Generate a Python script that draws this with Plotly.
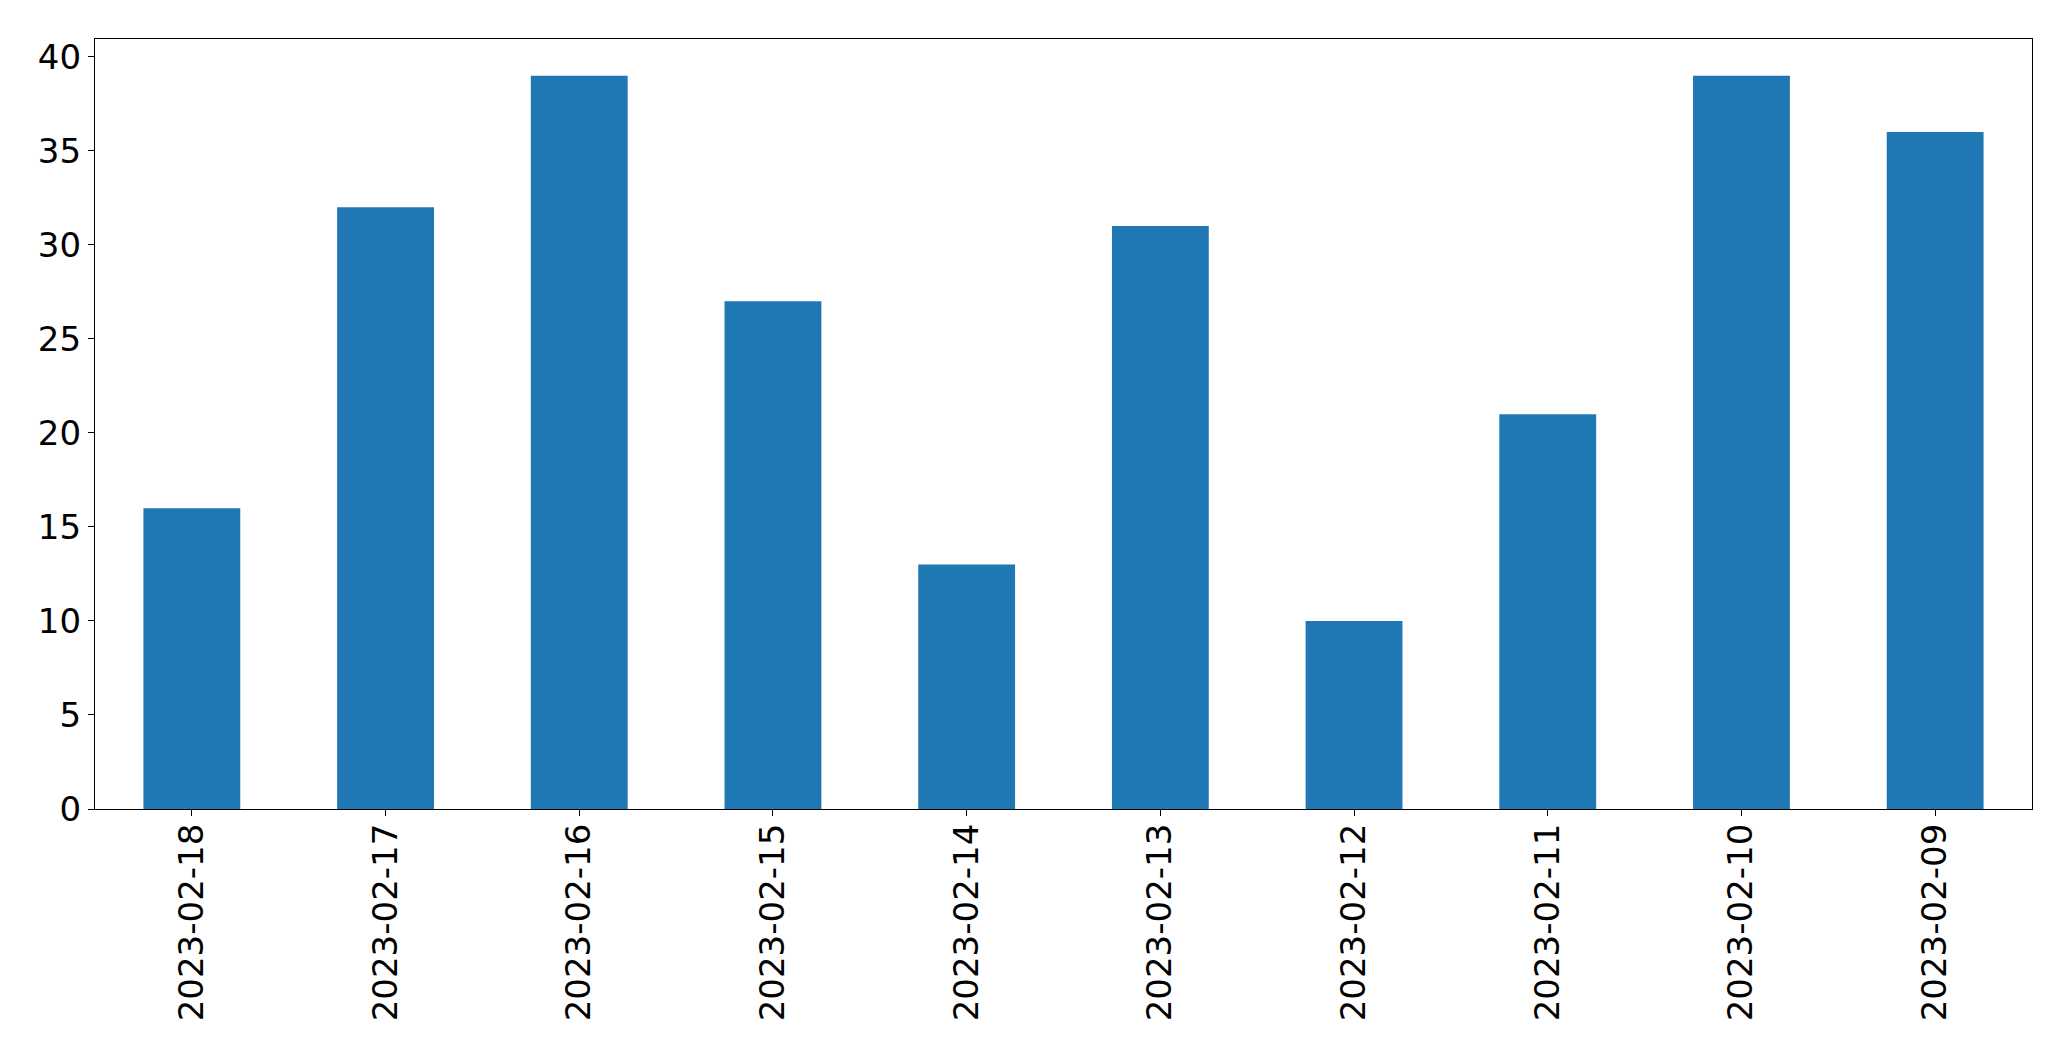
import plotly.graph_objects as go

dates = ["2023-02-18", "2023-02-17", "2023-02-16", "2023-02-15", "2023-02-14",
         "2023-02-13", "2023-02-12", "2023-02-11", "2023-02-10", "2023-02-09"]
counts = [16, 32, 39, 27, 13, 31, 10, 21, 39, 36]
y_ticks = [0, 5, 10, 15, 20, 25, 30, 35, 40]

fig = go.Figure(go.Bar(x=dates, y=counts, width=0.5, marker_color="#1f77b4",
                       marker_line_width=0))

font = dict(family="DejaVu Sans", size=34, color="black")
fig.update_layout(
    width=2055, height=1045,
    margin=dict(l=87, r=31, t=31, b=244),
    plot_bgcolor="white", paper_bgcolor="white",
    showlegend=False,
    font=font,
)
fig.update_xaxes(type="category", range=[-0.5, len(dates) - 0.5], tickangle=-90,
                 showline=True, linecolor="black", linewidth=1.2, mirror=True,
                 ticks="outside", ticklen=6, tickwidth=1.2, tickcolor="black",
                 ticklabelstandoff=-6,
                 showgrid=False, tickfont=font)
fig.update_yaxes(range=[0, max(counts) * 1.05], tickvals=y_ticks,
                 showline=True, linecolor="black", linewidth=1.2, mirror=True,
                 ticks="outside", ticklen=6, tickwidth=1.2, tickcolor="black",
                 showgrid=False, zeroline=False, tickfont=font)

fig.write_html("out.html")
